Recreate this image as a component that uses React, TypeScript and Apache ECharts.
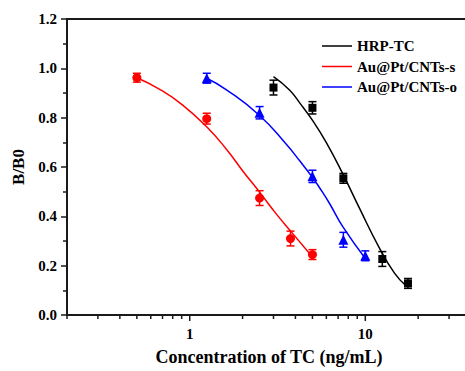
import React, { useEffect, useRef } from "react";
import * as echarts from "echarts";

// ---- data ----
const seriesNames = ["HRP-TC", "Au@Pt/CNTs-s", "Au@Pt/CNTs-o"];
const seriesColors = ["#000000", "#ff0000", "#0000ff"];

// measured points (concentration, B/B0, error)
const hrpX = [3, 5, 7.5, 12.5, 17.5];
const hrpY = [0.922, 0.84, 0.554, 0.227, 0.128];
const hrpErr = [0.03, 0.025, 0.02, 0.03, 0.02];

const sX = [0.5, 1.25, 2.5, 3.75, 5];
const sY = [0.962, 0.796, 0.474, 0.31, 0.245];
const sErr = [0.018, 0.022, 0.03, 0.03, 0.02];

const oX = [1.25, 2.5, 5, 7.5, 10];
const oY = [0.96, 0.82, 0.562, 0.305, 0.24];
const oErr = [0.02, 0.025, 0.025, 0.03, 0.02];

// fitted curves
const hrpFitX = [3, 3.7, 4.23, 5.04, 6, 7.46, 9.29, 12.06, 14.7, 17.1];
const hrpFitY = [0.966, 0.912, 0.86, 0.786, 0.699, 0.571, 0.431, 0.27, 0.169, 0.118];

const sFitX = [0.5, 0.675, 0.912, 1.245, 1.618, 2.01, 2.5, 3.11, 3.79, 5];
const sFitY = [0.962, 0.915, 0.851, 0.764, 0.672, 0.583, 0.498, 0.41, 0.337, 0.235];

const oFitX = [1.25, 1.62, 2.5, 3.55, 4.23, 5, 5.5, 6.27, 7.46, 10];
const oFitY = [0.96, 0.913, 0.809, 0.692, 0.625, 0.558, 0.515, 0.451, 0.357, 0.229];

// axis ticks
const xMajorTicks = [1, 10];
const xMinorTicks = [0.2, 0.3, 0.4, 0.5, 0.6, 0.7, 0.8, 0.9, 2, 3, 4, 5, 6, 7, 8, 9, 20, 30, 40];
const xMin = 0.2;
const xMax = 40;
const yMin = 0;
const yMax = 1.2;
const yInterval = 0.2;

const FONT = "Liberation Serif";
const AXIS_COLOR = "#1a1a1a";

function zip(xs: number[], ys: number[]) {
  return xs.map((x, i) => [x, ys[i]]);
}
function zip3(xs: number[], ys: number[], es: number[]) {
  return xs.map((x, i) => [x, ys[i], es[i]]);
}

function errorBarSeries(name: string, data: number[][], color: string) {
  return {
    name,
    type: "custom",
    z: 3,
    silent: true,
    dimensions: ["x", "y", "err"],
    encode: { x: 0, y: 1 },
    data,
    renderItem: (params: any, api: any) => {
      const x = api.value(0);
      const y = api.value(1);
      const e = api.value(2);
      const top = api.coord([x, y + e]);
      const bot = api.coord([x, y - e]);
      const cap = 4;
      const style = { stroke: color, lineWidth: 1.5 };
      return {
        type: "group",
        children: [
          { type: "line", shape: { x1: top[0], y1: top[1], x2: bot[0], y2: bot[1] }, style },
          { type: "line", shape: { x1: top[0] - cap, y1: top[1], x2: top[0] + cap, y2: top[1] }, style },
          { type: "line", shape: { x1: bot[0] - cap, y1: bot[1], x2: bot[0] + cap, y2: bot[1] }, style },
        ],
      };
    },
  };
}

function tickSeries(name: string, values: number[], len: number) {
  return {
    name,
    type: "custom",
    silent: true,
    clip: false,
    z: 5,
    dimensions: ["x", "y"],
    encode: { x: 0, y: 1 },
    data: values.map((v) => [v, yMin]),
    renderItem: (params: any, api: any) => {
      const p = api.coord([api.value(0), api.value(1)]);
      return {
        type: "line",
        shape: { x1: p[0], y1: p[1], x2: p[0], y2: p[1] + len },
        style: { stroke: AXIS_COLOR, lineWidth: 1.5 },
      };
    },
  };
}

export default function App() {
  const ref = useRef<HTMLDivElement>(null);

  useEffect(() => {
    if (!ref.current) return;
    const chart = echarts.init(ref.current, undefined, { renderer: "svg" });

    const fits = [zip(hrpFitX, hrpFitY), zip(sFitX, sFitY), zip(oFitX, oFitY)];
    const pts = [zip3(hrpX, hrpY, hrpErr), zip3(sX, sY, sErr), zip3(oX, oY, oErr)];
    const symbols = ["rect", "circle", "triangle"];
    const sizes = [8, 9, 10];

    const series: any[] = [];
    seriesNames.forEach((name, i) => {
      series.push({
        name,
        type: "line",
        data: fits[i],
        smooth: 0.5,
        symbol: "none",
        showSymbol: false,
        z: 2,
        lineStyle: { color: seriesColors[i], width: 1.5 },
        itemStyle: { color: seriesColors[i] },
      });
    });
    seriesNames.forEach((name, i) => {
      series.push(errorBarSeries(name + " err", pts[i], seriesColors[i]));
      series.push({
        name: name + " pts",
        type: "scatter",
        data: pts[i].map((p) => [p[0], p[1]]),
        symbol: symbols[i],
        symbolSize: sizes[i],
        z: 4,
        itemStyle: { color: seriesColors[i], opacity: 1 },
      });
    });
    series.push(tickSeries("xMinor", xMinorTicks, 4));
    series.push(tickSeries("xMajor", xMajorTicks, 6));

    chart.setOption({
      animation: false,
      grid: {
        left: 67,
        top: 19,
        bottom: 54,
        right: 9,
        show: true,
        borderColor: AXIS_COLOR,
        borderWidth: 2,
        backgroundColor: "transparent",
      },
      legend: {
        data: seriesNames.map((n, i) => ({ name: n, icon: "rect", itemStyle: { color: seriesColors[i] } })),
        orient: "vertical",
        left: 317,
        top: 33,
        itemWidth: 30,
        itemHeight: 1.5,
        itemGap: 4.5,
        textStyle: { fontFamily: FONT, fontWeight: "bold", fontSize: 15, color: "#000", lineHeight: 16 },
      },
      xAxis: {
        type: "log",
        logBase: 10,
        min: xMin,
        max: xMax,
        name: "Concentration of TC (ng/mL)",
        nameLocation: "middle",
        nameGap: 33,
        nameTextStyle: { fontFamily: FONT, fontWeight: "bold", fontSize: 18, color: "#000" },
        axisLine: { show: true, lineStyle: { color: AXIS_COLOR, width: 2 } },
        axisTick: { show: false },
        minorTick: { show: false },
        splitLine: { show: false },
        axisLabel: {
          show: true,
          margin: 11,
          showMinLabel: false,
          showMaxLabel: false,
          fontFamily: FONT,
          fontWeight: "bold",
          fontSize: 15,
          color: "#000",
          formatter: (v: number) => {
            const r = Math.round(v);
            return xMajorTicks.indexOf(r) >= 0 && Math.abs(v - r) < 1e-6 ? String(r) : "";
          },
        },
      },
      yAxis: {
        type: "value",
        min: yMin,
        max: yMax,
        interval: yInterval,
        name: "B/B0",
        nameLocation: "middle",
        nameGap: 34,
        nameRotate: 90,
        nameTextStyle: { fontFamily: FONT, fontWeight: "bold", fontSize: 17, color: "#000" },
        axisLine: { show: true, lineStyle: { color: AXIS_COLOR, width: 2 } },
        axisTick: { show: true, inside: false, length: 6, lineStyle: { color: AXIS_COLOR, width: 1.5 } },
        minorTick: { show: true, splitNumber: 2, length: 4, lineStyle: { color: AXIS_COLOR, width: 1.5 } },
        splitLine: { show: false },
        axisLabel: {
          margin: 10,
          fontFamily: FONT,
          fontWeight: "bold",
          fontSize: 15,
          color: "#000",
          formatter: (v: number) => v.toFixed(1),
        },
      },
      series,
    });

    return () => chart.dispose();
  }, []);

  return (
    <div
      style={{
        position: "absolute",
        left: 0,
        top: 0,
        width: 465,
        height: 371,
        overflow: "hidden",
        background: "#fff",
      }}
    >
      <div ref={ref} style={{ width: 480, height: 371 }} />
    </div>
  );
}
